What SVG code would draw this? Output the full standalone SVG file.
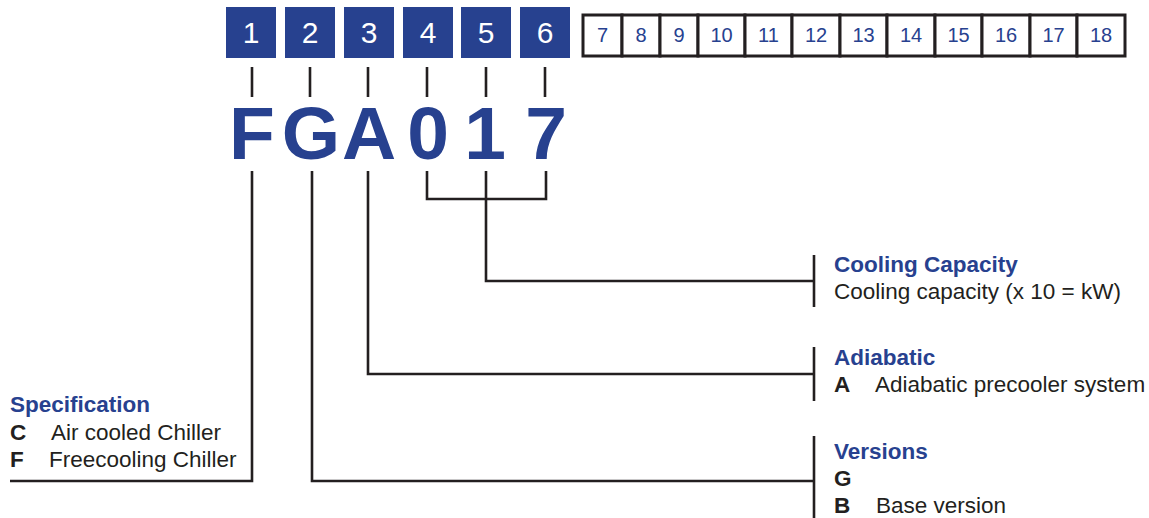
<svg xmlns="http://www.w3.org/2000/svg" width="1149" height="518" viewBox="0 0 1149 518">
  <style>
    .pos { fill: #27418f; }
    .posnum { fill: #ffffff; font-family: "Liberation Sans", Arial, sans-serif; font-size: 30px; text-anchor: middle; }
    .cell { fill: #ffffff; stroke: #231f20; stroke-width: 3; }
    .cellnum { fill: #27418f; font-family: "Liberation Sans", Arial, sans-serif; font-size: 20px; text-anchor: middle; }
    .code { fill: #27418f; font-family: "Liberation Sans", Arial, sans-serif; font-size: 75px; font-weight: bold; text-anchor: middle; }
    .wire { fill: none; stroke: #231f20; stroke-width: 2.6; }
    .title { fill: #27418f; font-family: "Liberation Sans", Arial, sans-serif; font-size: 22.5px; font-weight: bold; }
    .key { fill: #231f20; font-family: "Liberation Sans", Arial, sans-serif; font-size: 22.5px; font-weight: bold; }
    .desc { fill: #231f20; font-family: "Liberation Sans", Arial, sans-serif; font-size: 22.5px; }
  </style>

  <!-- positions 1..6 (filled) -->
  <g id="positions-used">
    <rect class="pos" x="226" y="7" width="50" height="51"/>
    <rect class="pos" x="285" y="7" width="50" height="51"/>
    <rect class="pos" x="344" y="7" width="50" height="51"/>
    <rect class="pos" x="403" y="7" width="50" height="51"/>
    <rect class="pos" x="461" y="7" width="50" height="51"/>
    <rect class="pos" x="520" y="7" width="50" height="51"/>
    <text class="posnum" x="251" y="43">1</text>
    <text class="posnum" x="310" y="43">2</text>
    <text class="posnum" x="369" y="43">3</text>
    <text class="posnum" x="428" y="43">4</text>
    <text class="posnum" x="486" y="43">5</text>
    <text class="posnum" x="545" y="43">6</text>
  </g>

  <!-- positions 7..18 (empty) -->
  <g id="positions-free">
    <rect class="cell" x="583" y="15" width="39" height="41"/>
    <rect class="cell" x="622" y="15" width="38" height="41"/>
    <rect class="cell" x="660" y="15" width="38" height="41"/>
    <rect class="cell" x="698" y="15" width="47" height="41"/>
    <rect class="cell" x="745" y="15" width="47" height="41"/>
    <rect class="cell" x="792" y="15" width="48" height="41"/>
    <rect class="cell" x="840" y="15" width="47" height="41"/>
    <rect class="cell" x="887" y="15" width="48" height="41"/>
    <rect class="cell" x="935" y="15" width="47" height="41"/>
    <rect class="cell" x="982" y="15" width="48" height="41"/>
    <rect class="cell" x="1030" y="15" width="47" height="41"/>
    <rect class="cell" x="1077" y="15" width="48" height="41"/>
    <text class="cellnum" x="602.5" y="42">7</text>
    <text class="cellnum" x="641" y="42">8</text>
    <text class="cellnum" x="679" y="42">9</text>
    <text class="cellnum" x="721.5" y="42">10</text>
    <text class="cellnum" x="768.5" y="42">11</text>
    <text class="cellnum" x="816" y="42">12</text>
    <text class="cellnum" x="863.5" y="42">13</text>
    <text class="cellnum" x="911" y="42">14</text>
    <text class="cellnum" x="958.5" y="42">15</text>
    <text class="cellnum" x="1006" y="42">16</text>
    <text class="cellnum" x="1053.5" y="42">17</text>
    <text class="cellnum" x="1101" y="42">18</text>
  </g>

  <!-- model code -->
  <g id="code">
    <text class="code" x="252" y="159">F</text>
    <text class="code" x="311" y="159">G</text>
    <text class="code" x="369" y="159">A</text>
    <text class="code" x="428" y="159">0</text>
    <text class="code" x="485" y="159">1</text>
    <text class="code" x="546" y="159">7</text>
  </g>

  <!-- connectors -->
  <g id="connectors">
    <!-- short ticks between boxes and letters -->
    <path class="wire" d="M252 67V97 M310 67V97 M368 67V97 M427 67V97 M486 67V97 M545 67V97"/>
    <!-- position 1 to specification -->
    <path class="wire" d="M252 171V481H10"/>
    <!-- position 2 to versions -->
    <path class="wire" d="M312 171V481H814"/>
    <path class="wire" d="M814 436V518"/>
    <!-- position 3 to adiabatic -->
    <path class="wire" d="M368 171V374H814"/>
    <path class="wire" d="M814 347V401"/>
    <!-- positions 4-6 to cooling capacity -->
    <path class="wire" d="M427 171V199H546V171 M486 171V281H814"/>
    <path class="wire" d="M814 255V307"/>
  </g>

  <g id="specification">
    <text class="title" x="10" y="412">Specification</text>
    <text class="key" x="10" y="440">C</text>
    <text class="desc" x="51" y="440">Air cooled Chiller</text>
    <text class="key" x="10" y="467">F</text>
    <text class="desc" x="49" y="467">Freecooling Chiller</text>
  </g>

  <g id="cooling-capacity">
    <text class="title" x="834" y="272">Cooling Capacity</text>
    <text class="desc" x="834" y="299">Cooling capacity (x 10 = kW)</text>
  </g>

  <g id="adiabatic">
    <text class="title" x="834" y="365">Adiabatic</text>
    <text class="key" x="834" y="392">A</text>
    <text class="desc" x="875" y="392">Adiabatic precooler system</text>
  </g>

  <g id="versions">
    <text class="title" x="834" y="459">Versions</text>
    <text class="key" x="834" y="486">G</text>
    <text class="key" x="834" y="513">B</text>
    <text class="desc" x="876" y="513">Base version</text>
  </g>
</svg>
